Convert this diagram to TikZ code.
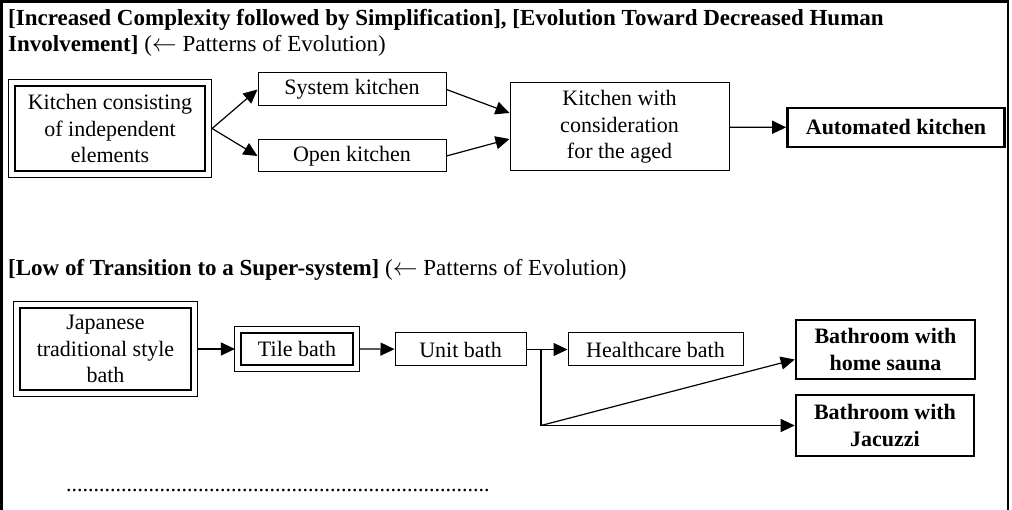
\documentclass[tikz,border=0pt]{standalone}
\usepackage{fontspec}
\setmainfont{Liberation Serif}
\usetikzlibrary{arrows.meta,calc}

\begin{document}
\begin{tikzpicture}
  [x=1pt,y=-1pt,font=\fontsize{22}{26.5}\selectfont,
   stage/.style={draw,line width=1pt,align=center,inner sep=0pt},
   root/.style={stage,line width=2.2pt},
   goal/.style={stage,line width=2.6pt,font=\fontsize{22}{26.5}\selectfont\bfseries},
   head/.style={anchor=base west,inner sep=0pt,align=left,font=\fontsize{23}{26}\selectfont},
   link/.style={line width=1.2pt,-{Triangle[length=14pt,width=13pt]}}]
  \useasboundingbox (0,0) rectangle (1012,510);
  \draw[line width=2.5pt] (1.5,512) -- (1.5,1.5) -- (1008,1.5) -- (1008,512);

  % kitchen
  \node[head] (kithead) at (8,52) {\textbf{[Increased Complexity followed by Simplification], [Evolution Toward Decreased Human}\\
    \textbf{Involvement]} ($\leftarrow$ Patterns of Evolution)};

  \node[root,minimum width=190,minimum height=85] (kitsep) at (110,128.5) {Kitchen consisting\\of independent\\elements};
  \node[stage,minimum width=188,minimum height=33] (syskit) at (352,89.5) {System kitchen};
  \node[stage,minimum width=188,minimum height=32] (openkit) at (352,156) {Open kitchen};
  \node[stage,minimum width=219,minimum height=88] (agedkit) at (619.5,127) {Kitchen with\\consideration\\for the aged};
  \node[goal,minimum width=217,minimum height=39] (autokit) at (896,127.5) {Automated kitchen};

  \draw[link] ([xshift=6pt]kitsep.east) -- (syskit.west);
  \draw[link] ([xshift=6pt]kitsep.east) -- (openkit.west);
  \draw[link] (syskit.east) -- ([yshift=14pt]agedkit.west);
  \draw[link] (openkit.east) -- ([yshift=-12pt]agedkit.west);
  \draw[link] (agedkit) -- (autokit);

  % bath
  \node[head] (bathhead) at (8,276) {\textbf{[Low of Transition to a Super-system]} ($\leftarrow$ Patterns of Evolution)};

  \node[root,minimum width=171,minimum height=82] (japbath) at (105.5,349) {Japanese\\traditional style\\bath};
  \node[root,minimum width=112,minimum height=32] (tilebath) at (297,349) {Tile bath};
  \node[stage,minimum width=131,minimum height=33] (unitbath) at (460.5,349.5) {Unit bath};
  \node[stage,minimum width=175,minimum height=33] (carebath) at (655.5,349.5) {Healthcare bath};
  \node[goal,minimum width=179,minimum height=59] (saunabath) at (885.5,349.5) {Bathroom with\\home sauna};
  \node[goal,minimum width=178,minimum height=61] (jacbath) at (885,425.5) {Bathroom with\\Jacuzzi};

  \coordinate (split) at (541,349.5);
  \coordinate (fork) at (541,425.5);

  \draw[link] ([xshift=5pt]japbath.east) -- ([xshift=-5pt]tilebath.west);
  \draw[link] ([xshift=5pt]tilebath.east) -- (unitbath);
  \draw[link] (unitbath) -- (carebath);
  \draw[line width=1.2pt] (split) -- (fork);
  \draw[link] (fork) -- ([yshift=-10pt]saunabath.west);
  \draw[link] (fork) -- (jacbath.west);

  % thin outer frame of the start boxes
  \foreach \n in {kitsep,japbath,tilebath}
    \draw[line width=1pt] ($(\n.north west)+(-5pt,5pt)$) rectangle ($(\n.south east)+(5pt,-5pt)$);

  \node[head,font=\fontsize{22}{26}\selectfont] (etc) at (66,491) {\foreach \i in {1,...,77}{.}};
\end{tikzpicture}
\end{document}
